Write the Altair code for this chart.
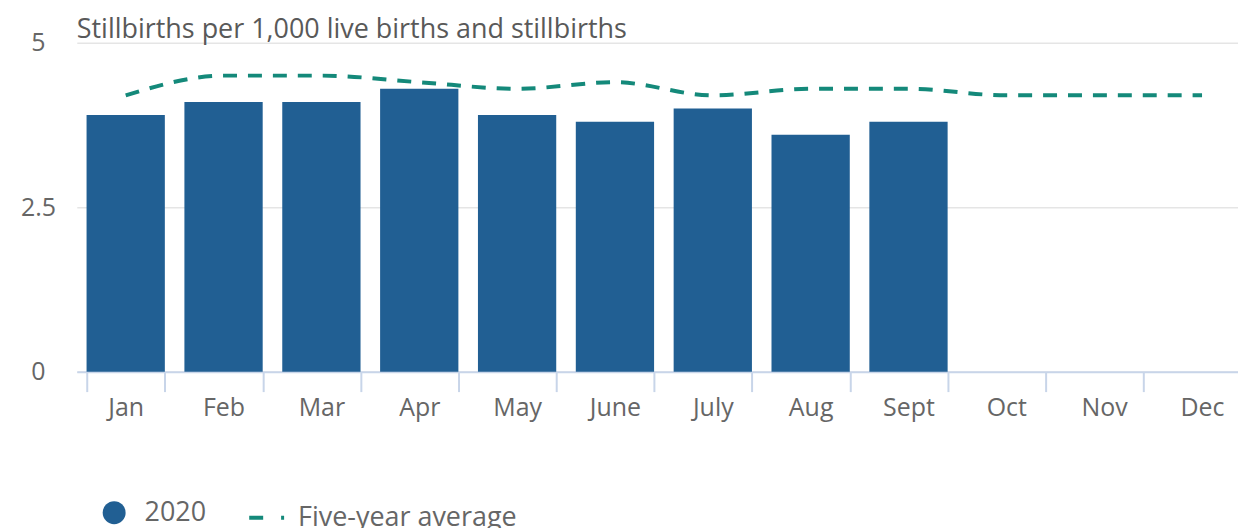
import altair as alt
import pandas as pd

months = ["Jan", "Feb", "Mar", "Apr", "May", "June", "July", "Aug", "Sept", "Oct", "Nov", "Dec"]
rate_2020 = [3.9, 4.1, 4.1, 4.3, 3.9, 3.8, 4.0, 3.6, 3.8]
five_year_avg = [4.2, 4.5, 4.5, 4.4, 4.3, 4.4, 4.2, 4.3, 4.3, 4.2, 4.2, 4.2]
y_ticks = [0, 2.5, 5]

bars_df = pd.DataFrame({"month": months[:len(rate_2020)], "value": rate_2020, "series": "2020"})
line_df = pd.DataFrame({"month": months, "value": five_year_avg, "series": "Five-year average"})

font = "Open Sans"
grey = "#666666"
axis_blue = "#c8d5e9"

x = alt.X(
    "month:N",
    sort=months,
    scale=alt.Scale(domain=months, paddingInner=0.2, paddingOuter=0.1, range=[0, 1178]),
    axis=alt.Axis(
        title=None, tickBand="extent", labelAngle=0, domainColor=axis_blue, domainWidth=2,
        tickColor=axis_blue, tickWidth=2, tickSize=20, labelPadding=4, labelFontSize=25,
        labelColor=grey, labelFont=font, grid=False,
    ),
)
y = alt.Y(
    "value:Q",
    scale=alt.Scale(domain=[0, 5]),
    axis=alt.Axis(
        title=None, values=y_ticks, labelExpr="format(datum.value, '~g')", domain=False, ticks=False,
        gridColor="#e5e5e5", gridWidth=1.5, labelFontSize=25, labelColor=grey,
        labelFont=font, labelAlign="center", labelPadding=39,
    ),
)

bars = alt.Chart(bars_df).mark_bar(opacity=1).encode(
    x=x,
    y=y,
    color=alt.Color(
        "series:N",
        scale=alt.Scale(domain=["2020"], range=["#215f93"]),
        legend=alt.Legend(
            title=None, orient="none", legendX=24, legendY=458, symbolType="circle",
            symbolSize=530, symbolStrokeWidth=0, symbolOpacity=1, labelFontSize=27,
            labelColor=grey, labelFont=font, labelOffset=17, padding=0, labelLimit=400,
        ),
    ),
)

line = alt.Chart(line_df).mark_line(strokeWidth=4, strokeDash=[14, 11], interpolate="monotone").encode(
    x=x,
    y=y,
    stroke=alt.Stroke(
        "series:N",
        scale=alt.Scale(domain=["Five-year average"], range=["#14897a"]),
        legend=alt.Legend(
            title=None, orient="none", legendX=171, legendY=457, symbolType="stroke",
            symbolSize=1225, symbolStrokeWidth=4, symbolDash=[14, 18], labelFontSize=27,
            labelColor=grey, labelFont=font, labelOffset=12, padding=0, labelLimit=400,
        ),
    ),
)

chart = (
    alt.layer(bars, line)
    .properties(
        width=1165,
        height=330,
        title=alt.TitleParams(
            "Stillbirths per 1,000 live births and stillbirths", anchor="start", frame="group",
            fontSize=27, fontWeight="normal", color="#595959", font=font, offset=-13,
        ),
        autosize=alt.AutoSizeParams(type="none"),
        padding={"left": 69, "top": 34, "right": 0, "bottom": 156},
    )
    .configure_view(stroke=None)
)

chart.save("out.html", embed_options={"renderer": "svg", "actions": False})
